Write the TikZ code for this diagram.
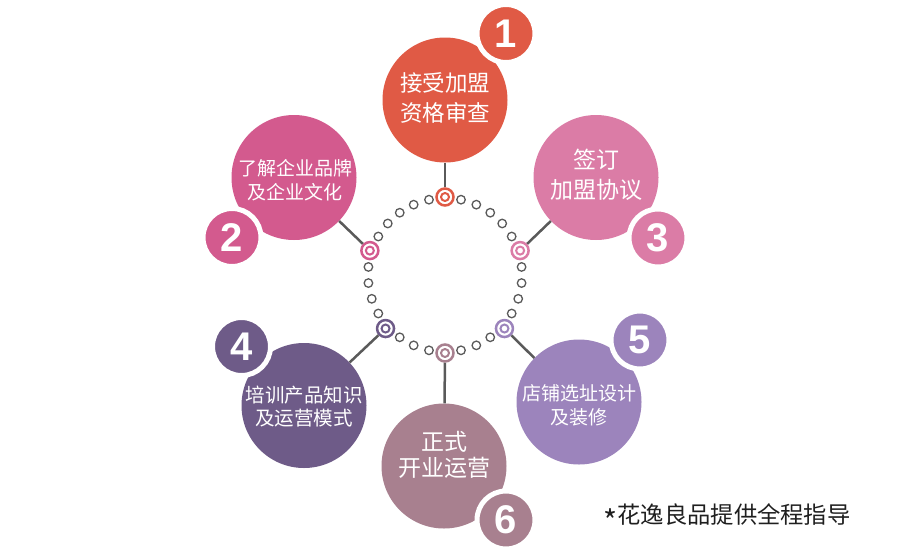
\documentclass[tikz,border=0pt]{standalone}
\usepackage{fontspec}
\setmainfont{Noto Sans CJK SC}
\newfontfamily\numfont{Liberation Sans}
\usetikzlibrary{calc}

\definecolor{stepA}{HTML}{E05A45}
\definecolor{stepB}{HTML}{D35A8E}
\definecolor{stepC}{HTML}{DB7CA6}
\definecolor{stepD}{HTML}{6E5B88}
\definecolor{stepE}{HTML}{9C84BC}
\definecolor{stepF}{HTML}{A8808F}
\definecolor{linkgray}{HTML}{5A5A5A}

\begin{document}
\begin{tikzpicture}[x=1pt, y=-1pt,
		stepcircle/.style={circle, inner sep=0pt, minimum size=125pt},
		steptext/.style={text=white, align=center, inner sep=0pt},
		badge/.style={circle, inner sep=0pt, draw=white, line width=5pt, minimum size=58pt,
			text=white, font=\numfont\bfseries\fontsize{40}{40}\selectfont},
		ringmark/.style={circle, draw=#1, fill=white, line width=2.5pt, minimum size=17pt, inner sep=0pt,
			path picture={\draw[#1, line width=2pt] (path picture bounding box.center) circle (4pt);}},
		dot/.style={circle, draw=linkgray, fill=white, line width=1.3pt, minimum size=8.5pt, inner sep=0pt},
		link/.style={draw=linkgray, line width=2.5pt}]
			%%%%% START %%%%%
			
			\useasboundingbox (0, 0) rectangle (900, 555);
			
			\coordinate (hub) at (445, 275);
			
			%% small ring dots
			\foreach \ang in {30,42,54,66,78,102,114,126,138,150,174,186,198,210,234,246,258,282,294,306,330,342,354,6}
				\node[dot] (d\ang) at ($(hub)+(\ang:77pt)$) {};
			
			%% ring marks
			\node[ringmark=stepA] (a1) at ($(hub)+(90:78pt)$) {};
			\node[ringmark=stepB] (a2) at ($(hub)+(162:79pt)$) {};
			\node[ringmark=stepC] (a3) at ($(hub)+(18:79pt)$) {};
			\node[ringmark=stepD] (a4) at ($(hub)+(222:80pt)$) {};
			\node[ringmark=stepE] (a5) at ($(hub)+(318:80pt)$) {};
			\node[ringmark=stepF] (a6) at ($(hub)+(270:78pt)$) {};
			
			%% step circles
			\node[stepcircle, fill=stepA] (s1) at (445, 100) {};
			\node[stepcircle, fill=stepB] (s2) at (294, 177.5) {};
			\node[stepcircle, fill=stepC] (s3) at (596, 177.5) {};
			\node[stepcircle, fill=stepD] (s4) at (304, 405.5) {};
			\node[stepcircle, fill=stepE] (s5) at (579, 402) {};
			\node[stepcircle, fill=stepF] (s6) at (444, 466) {};
			
			\node[steptext, font=\fontsize{22.5}{30}\selectfont] (t1) at (445, 98) {接受加盟\\资格审查};
			\node[steptext, font=\fontsize{19}{24}\selectfont] (t2) at (295, 180) {了解企业品牌\\及企业文化};
			\node[steptext, font=\fontsize{23}{30}\selectfont] (t3) at (596, 175) {签订\\加盟协议};
			\node[steptext, font=\fontsize{19.5}{23}\selectfont] (t4) at (304, 406.5) {培训产品知识\\及运营模式};
			\node[steptext, font=\fontsize{19}{24}\selectfont] (t5) at (579, 405) {店铺选址设计\\及装修};
			\node[steptext, font=\fontsize{23}{26}\selectfont] (t6) at (444, 455) {正式\\开业运营};
			
			%% links
			\draw[link] (a1) -- (s1);
			\draw[link] (a2) -- (s2);
			\draw[link] (a3) -- (s3);
			\draw[link] (a4) -- (s4);
			\draw[link] (a5) -- (s5);
			\draw[link] (a6) -- (s6);
			
			%% number badges
			\node[badge, fill=stepA] (b1) at (506, 33.5) {1};
			\node[badge, fill=stepB] (b2) at (232, 237.5) {2};
			\node[badge, fill=stepC] (b3) at (658, 238) {3};
			\node[badge, fill=stepD] (b4) at (241.5, 346.5) {4};
			\node[badge, fill=stepE] (b5) at (640, 340) {5};
			\node[badge, fill=stepF] (b6) at (506, 520) {6};
			
			%% footnote
			\node[text=black!88, font=\fontsize{23.3}{26}\selectfont, inner sep=0pt] (note) at (727, 518)
				{{\fontsize{30}{30}\selectfont\raisebox{-0.3em}{*}}花逸良品提供全程指导};
			
			%%%%% END %%%%%
\end{tikzpicture}
\end{document}
